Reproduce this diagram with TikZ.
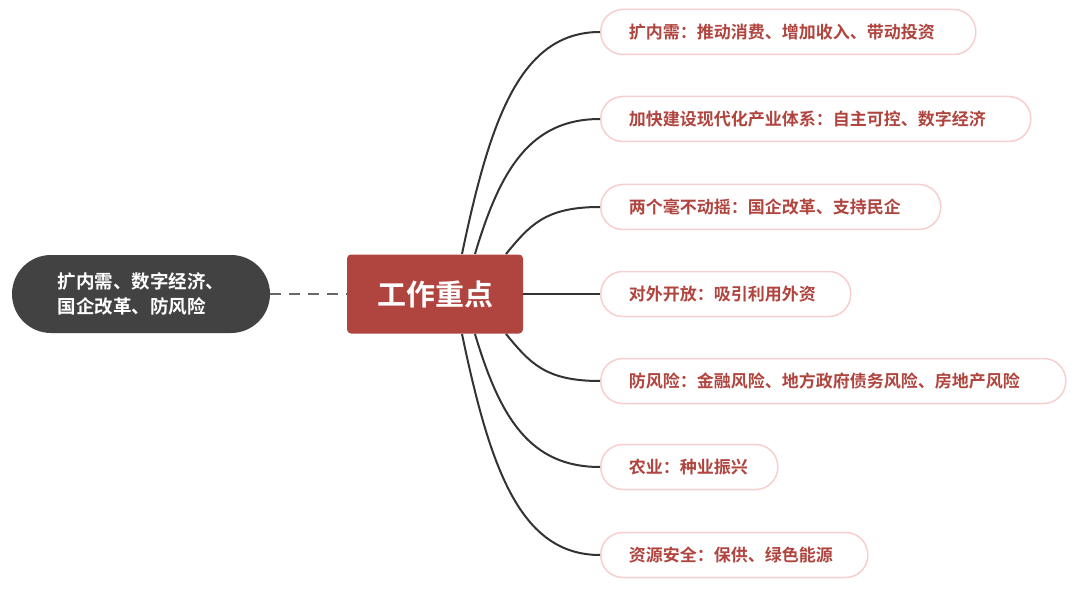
\documentclass[tikz,border=0pt]{standalone}
\usepackage{fontspec}
\setmainfont{Noto Sans CJK SC}[BoldFont={* Bold}]
\definecolor{cred}{HTML}{B0443E}
\definecolor{cpink}{HTML}{F8CFCF}
\definecolor{cdark}{HTML}{424242}
\definecolor{cline}{HTML}{333333}
\begin{document}
\begin{tikzpicture}[x=1pt,y=-1pt,
  leaf/.style={draw=cpink,line width=1.5pt,rounded corners=22pt,minimum height=45pt,anchor=west,
    inner xsep=0pt,align=left,text width=#1-56pt,text=cred,font=\bfseries\fontsize{17}{17}\selectfont,fill=white,
    append after command={}},
  conn/.style={draw=cline,line width=2pt}]
\tikzset{lf/.style={leaf=#1,text width=#1-56pt,minimum width=#1}}
\useasboundingbox (0,0) rectangle (1080,591);
\node[fill=cred,rounded corners=4pt,minimum width=176pt,minimum height=79pt,text=white,
  font=\bfseries\fontsize{29}{29}\selectfont] (c) at (435,294) {工作重点};
\node[fill=cdark,rounded corners=39pt,minimum width=258pt,minimum height=78pt,text=white,align=left,
  font=\bfseries\fontsize{18.5}{25}\selectfont] (l) at (141,294) {扩内需、数字经济、\\国企改革、防风险};
\draw[cdark!80,line width=2pt,dash pattern=on 11pt off 8pt] (l.east) -- (c.west);
\node[leaf=375pt,minimum width=375pt,inner xsep=28pt,text width=319pt] (n1) at (600,32) {扩内需：推动消费、增加收入、带动投资};
\node[leaf=430pt,minimum width=430pt,inner xsep=28pt,text width=374pt] (n2) at (600,119) {加快建设现代化产业体系：自主可控、数字经济};
\node[leaf=340pt,minimum width=340pt,inner xsep=28pt,text width=284pt] (n3) at (600,207) {两个毫不动摇：国企改革、支持民企};
\node[leaf=250pt,minimum width=250pt,inner xsep=28pt,text width=194pt] (n4) at (600,294) {对外开放：吸引利用外资};
\node[leaf=465pt,minimum width=465pt,inner xsep=28pt,text width=409pt] (n5) at (600,381) {防风险：金融风险、地方政府债务风险、房地产风险};
\node[leaf=177pt,minimum width=177pt,inner xsep=28pt,text width=121pt] (n6) at (600,467) {农业：种业振兴};
\node[leaf=267pt,minimum width=267pt,inner xsep=28pt,text width=211pt] (n7) at (600,555) {资源安全：保供、绿色能源};
\coordinate (t1) at (462,254); \coordinate (t2) at (475,254); \coordinate (t3) at (506,254);
\coordinate (b1) at (462,334); \coordinate (b2) at (475,334); \coordinate (b3) at (506,334);
\draw[conn] (t1) .. controls (490,120) and (520,32) .. (n1.west);
\draw[conn] (t2) .. controls (500,170) and (530,119) .. (n2.west);
\draw[conn] (t3) .. controls (530,225) and (545,207) .. (n3.west);
\draw[conn] (c.east) -- (n4.west);
\draw[conn] (b3) .. controls (530,363) and (545,381) .. (n5.west);
\draw[conn] (b2) .. controls (500,418) and (530,467) .. (n6.west);
\draw[conn] (b1) .. controls (490,468) and (520,555) .. (n7.west);
\end{tikzpicture}
\end{document}
